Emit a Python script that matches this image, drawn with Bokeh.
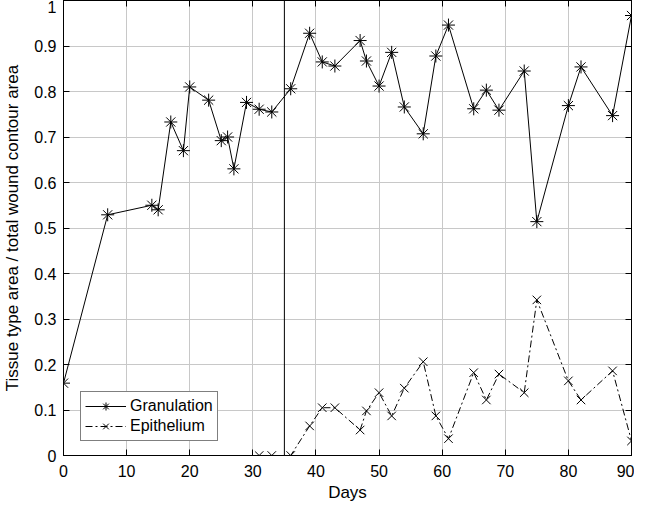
from bokeh.plotting import figure
from bokeh.models import Span, LinearAxis, FixedTicker, CustomJSTickFormatter, Range1d
from bokeh.embed import file_html
from bokeh.resources import INLINE

# ---- data ----
gran_days = [0, 7, 14, 15, 17, 19, 20, 23, 25, 26, 27, 29, 31, 33, 36, 39, 41, 43, 47, 48,
             50, 52, 54, 57, 59, 61, 65, 67, 69, 73, 75, 80, 82, 87, 90]
gran_vals = [0.159, 0.529, 0.550, 0.540, 0.733, 0.670, 0.810, 0.781, 0.692, 0.700, 0.630,
             0.776, 0.761, 0.755, 0.806, 0.928, 0.865, 0.856, 0.912, 0.867, 0.812, 0.886,
             0.766, 0.707, 0.878, 0.946, 0.762, 0.803, 0.759, 0.845, 0.514, 0.769, 0.854,
             0.747, 0.967]
epi_days = [31, 33, 36, 39, 41, 43, 47, 48, 50, 52, 54, 57, 59, 61, 65, 67, 69, 73, 75, 80,
            82, 87, 90]
epi_vals = [0.0, 0.0, 0.0, 0.065, 0.105, 0.105, 0.056, 0.098, 0.138, 0.087, 0.148, 0.206,
            0.087, 0.037, 0.182, 0.122, 0.179, 0.138, 0.342, 0.164, 0.122, 0.186, 0.032]
marker_day = 35
x_ticks = [0, 10, 20, 30, 40, 50, 60, 70, 80, 90]
y_ticks = [0, 0.1, 0.2, 0.3, 0.4, 0.5, 0.6, 0.7, 0.8, 0.9, 1.0]
x_title = "Days"
y_title = "Tissue type area / total wound contour area"

FONT = "Liberation Sans"

p = figure(width=634, height=504, output_backend="svg", toolbar_location=None,
           x_range=Range1d(0, 90), y_range=Range1d(0, 1),
           min_border_left=50, min_border_right=3, min_border_top=0, min_border_bottom=0)

p.outline_line_color = "black"
p.outline_line_width = 1

fmt = CustomJSTickFormatter(code="return String(Math.round(tick*10)/10);")
blank = CustomJSTickFormatter(code="return '';")

for ax in p.xaxis:
    ax.ticker = FixedTicker(ticks=x_ticks)
    ax.axis_label = x_title
for ax in p.yaxis:
    ax.ticker = FixedTicker(ticks=y_ticks)
    ax.formatter = fmt
    ax.axis_label = y_title
for ax in list(p.xaxis) + list(p.yaxis):
    ax.major_tick_in = 6
    ax.major_tick_out = 0
    ax.minor_tick_line_color = None
    ax.axis_line_color = "black"
    ax.major_tick_line_color = "black"
    ax.major_label_text_font = FONT
    ax.major_label_text_font_size = "16px"
    ax.major_label_text_color = "black"
    ax.axis_label_text_font = FONT
    ax.axis_label_text_font_size = "17px"
    ax.axis_label_text_font_style = "normal"
    ax.axis_label_text_color = "black"
p.xaxis.major_label_standoff = 9
p.yaxis.major_label_standoff = 7
p.xaxis.axis_label_standoff = 3
p.yaxis.axis_label_standoff = 9

# top / right box ticks (no labels)
top = LinearAxis(ticker=FixedTicker(ticks=x_ticks), formatter=blank,
                 major_tick_in=6, major_tick_out=0, minor_tick_line_color=None,
                 major_label_standoff=0, axis_label_standoff=0, axis_line_color="black")
right = LinearAxis(ticker=FixedTicker(ticks=y_ticks), formatter=blank,
                   major_tick_in=6, major_tick_out=0, minor_tick_line_color=None,
                   major_label_standoff=0, axis_label_standoff=0, axis_line_color="black")
p.add_layout(top, "above")
p.add_layout(right, "right")

p.xgrid.ticker = FixedTicker(ticks=x_ticks)
p.ygrid.ticker = FixedTicker(ticks=y_ticks)
for g in (p.xgrid, p.ygrid):
    g.grid_line_color = "#c8c8c8"
    g.grid_line_width = 1

p.add_layout(Span(location=marker_day, dimension="height", line_color="black", line_width=1))

p.line(gran_days, gran_vals, line_color="black", line_width=1, legend_label="Granulation")
p.scatter(gran_days, gran_vals, marker="asterisk", size=13, line_color="black",
          line_width=1, legend_label="Granulation")
p.line(epi_days, epi_vals, line_color="black", line_width=1, line_dash="7 3 2 3",
       legend_label="Epithelium")
p.scatter(epi_days, epi_vals, marker="x", size=12, line_color="black",
          line_width=1, legend_label="Epithelium")

lg = p.legend[0]
lg.location = (17, 14)
lg.border_line_color = "black"
lg.border_line_width = 1
lg.background_fill_color = "white"
lg.background_fill_alpha = 1
lg.label_text_font = FONT
lg.label_text_font_size = "16px"
lg.label_text_color = "black"
lg.glyph_width = 41
lg.glyph_height = 20
lg.label_height = 20
lg.label_standoff = 4
lg.padding = 4
lg.spacing = 0

open("out.html", "w").write(file_html(p, INLINE))
